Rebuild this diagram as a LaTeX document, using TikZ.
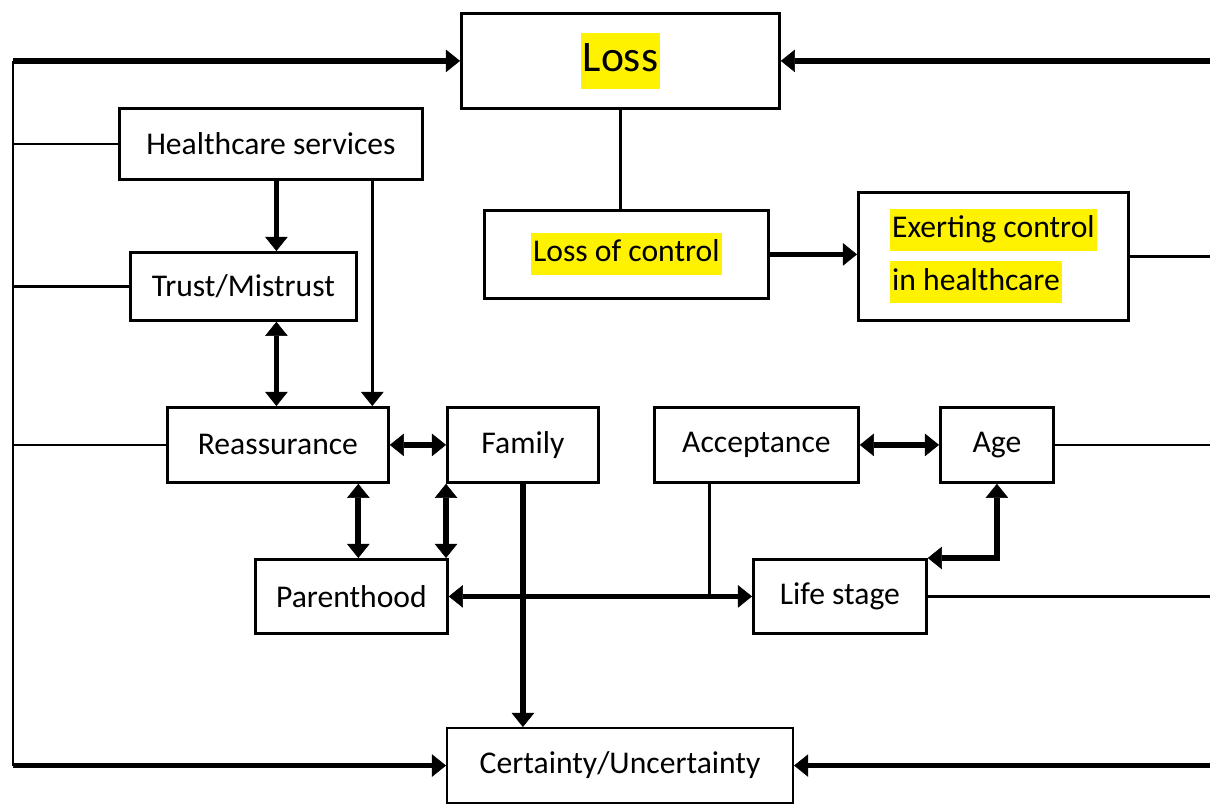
\documentclass[tikz,border=0pt]{standalone}
\usepackage{fontspec}
\setmainfont{Carlito}
\usetikzlibrary{positioning,calc,arrows.meta}
\newcommand\hlbox[1]{{\setlength{\fboxsep}{1.5pt}\colorbox{yellow}{\strut #1}}}

\begin{document}
\begin{tikzpicture}[font=\fontsize{22.5}{27}\selectfont]
\tikzset{
  box/.style={draw=black, line width=2pt, fill=white, inner sep=0pt, anchor=north west},
  thk/.style={line width=4pt},
  thn/.style={line width=1.6pt},
  arr/.style={-{Triangle[length=10pt,width=16pt,line width=0.4pt]}},
  darr/.style={{Triangle[length=10pt,width=16pt,line width=0.4pt]}-{Triangle[length=10pt,width=16pt,line width=0.4pt]}}
}
\useasboundingbox (0,0) rectangle (30.25,-20.1);
\coordinate (lft) at (0.33,0);
\coordinate (rgt) at (30.4,0);
\node[box, minimum width=7.95cm, minimum height=2.375cm] (loss) at (11.5,-0.3) {\fontsize{31}{37}\selectfont\hlbox{Loss}};
\node[box, minimum width=7.575cm, minimum height=1.775cm] (health) at (2.95,-2.675) {Healthcare services};
\node[box, minimum width=5.65cm, minimum height=1.7cm] (trust) at (3.225,-6.275) {Trust/Mistrust};
\node[box, minimum width=7.1cm, minimum height=2.2cm] (lctrl) at (12.075,-5.225) {\hlbox{Loss of control}};
\node[box, minimum width=6.75cm, minimum height=3.2cm, align=left] (exert) at (21.425,-4.775) {\hlbox{Exerting control}\\[6pt]\hlbox{in healthcare}};
\node[box, minimum width=5.525cm, minimum height=1.875cm] (reass) at (4.15,-10.15) {Reassurance};
\node[box, minimum width=3.775cm, minimum height=1.875cm] (family) at (11.15,-10.15) {Family};
\node[box, minimum width=5.1cm, minimum height=1.875cm] (accept) at (16.325,-10.15) {Acceptance};
\node[box, minimum width=2.825cm, minimum height=1.875cm] (age) at (23.475,-10.15) {Age};
\node[box, minimum width=4.8cm, minimum height=1.85cm] (parent) at (6.35,-13.95) {Parenthood};
\node[box, minimum width=4.325cm, minimum height=1.85cm] (life) at (18.8,-13.95) {Life stage};
\node[box, line width=1.5pt, minimum width=8.65cm, minimum height=1.875cm] (cert) at (11.15,-18.175) {Certainty/Uncertainty};
\draw[thn] (loss.west -| lft) -- (cert.west -| lft);
\draw[thk, arr] (loss.west -| lft) -- (loss.west);
\draw[thk, arr] (cert.west -| lft) -- (cert.west);
\draw[thn] (health.west -| lft) -- (health.west);
\draw[thn] (trust.west -| lft) -- (trust.west);
\draw[thn] (reass.west -| lft) -- (reass.west);
\draw[thk, arr] (loss.east -| rgt) -- (loss.east);
\draw[thk, arr] (cert.east -| rgt) -- (cert.east);
\draw[thn] (exert.east) -- (exert.east -| rgt);
\draw[thn] (age.east) -- (age.east -| rgt);
\draw[thn] (life.east) -- (life.east -| rgt);
\draw[thn] (loss.south) -- (loss.south |- lctrl.north);
\draw[thk, arr] (lctrl.east) -- (lctrl.east -| exert.west);
\draw[thk, arr] ([xshift=0.825cm]trust.north |- health.south) -- ([xshift=0.825cm]trust.north);
\draw[line width=2.5pt, arr] ([xshift=2.36cm]reass.north |- health.south) -- ([xshift=2.36cm]reass.north);
\draw[thk, darr] ([xshift=0.825cm]trust.south) -- ([xshift=0.825cm]trust.south |- reass.north);
\draw[thk, darr] (reass.east) -- (family.west);
\draw[thk, darr] ([xshift=2.01cm]reass.south) -- ([xshift=2.01cm]reass.south |- parent.north);
\draw[thk, darr] (family.south west) -- (family.south west |- parent.north);
\draw[thk, darr] (parent.east) -- (life.west);
\draw[thk, arr] (family.south) -- (family.south |- cert.north);
\draw[thn] ([xshift=-1.175cm]accept.south) -- ([xshift=-1.175cm]accept.south |- life.west);
\draw[thk, darr] (accept.east) -- (age.west);
\draw[thk, darr] (life.north east) -| (age.south);
\end{tikzpicture}
\end{document}
